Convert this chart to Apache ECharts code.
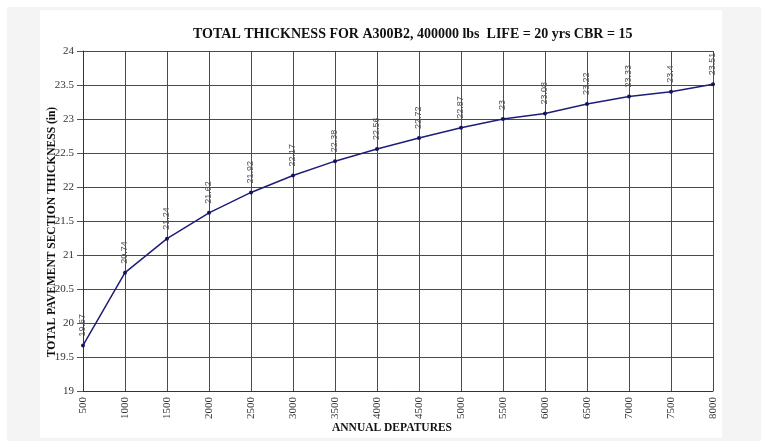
<!DOCTYPE html>
<html>
<head>
<meta charset="utf-8">
<script src="https://cdn.jsdelivr.net/npm/echarts@6/dist/echarts.min.js"></script>
<style>
  body { margin: 0; background: #ffffff; }
  .outer { position: absolute; left: 7px; top: 7px; width: 754px; height: 434px; background: #f4f4f4; }
  .panel { position: absolute; left: 40px; top: 10px; width: 682px; height: 428px; background: #ffffff; }
  #chart { position: absolute; left: 0; top: 0; width: 761px; height: 441px; }
</style>
</head>
<body>
<div class="outer"></div>
<div class="panel"></div>
<div id="chart"></div>
<script>
    // annual departures and total thickness (in)
    let departures = ['500', '1000', '1500', '2000', '2500', '3000', '3500', '4000',
        '4500', '5000', '5500', '6000', '6500', '7000', '7500', '8000'];
    let thickness = [19.67, 20.74, 21.24, 21.62, 21.92, 22.17, 22.38, 22.56,
        22.72, 22.87, 23, 23.08, 23.22, 23.33, 23.4, 23.51];

    let serif = '"Liberation Serif", "Times New Roman", serif';
    let gridColor = '#4a4a4a';

    let myChart = echarts.init(document.getElementById('chart'));
    myChart.setOption({
        animation: false,
        title: {
            text: 'TOTAL THICKNESS FOR A300B2, 400000 lbs  LIFE = 20 yrs CBR = 15',
            left: 193,
            top: 27,
            padding: 0,
            textStyle: {
                fontFamily: serif,
                fontSize: 14,
                fontWeight: 'bold',
                color: '#111'
            }
        },
        grid: {
            left: 83,
            right: 48,
            top: 51,
            bottom: 50
        },
        xAxis: {
            type: 'category',
            data: departures,
            boundaryGap: false,
            name: 'ANNUAL DEPATURES',
            nameLocation: 'middle',
            nameGap: 31,
            nameMoveOverlap: false,
            nameTextStyle: {
                fontFamily: serif,
                fontSize: 11.5,
                fontWeight: 'bold',
                color: '#111',
                padding: [0, 12, 0, 0]
            },
            axisLine: {lineStyle: {color: '#333', width: 1}},
            axisTick: {show: false},
            axisLabel: {
                rotate: 90,
                interval: 0,
                margin: 6,
                fontFamily: serif,
                fontSize: 11,
                color: '#333'
            },
            splitLine: {show: true, lineStyle: {color: gridColor, width: 1}}
        },
        yAxis: {
            type: 'value',
            min: 19,
            max: 24,
            interval: 0.5,
            name: 'TOTAL PAVEMENT SECTION THICKNESS (in)',
            nameLocation: 'middle',
            nameGap: 25,
            nameMoveOverlap: false,
            nameTextStyle: {
                fontFamily: serif,
                fontSize: 11.5,
                fontWeight: 'bold',
                color: '#111',
                padding: [0, 22, 0, 0]
            },
            axisLine: {show: true, lineStyle: {color: '#333', width: 1}},
            axisTick: {show: true, length: 6, lineStyle: {color: '#555'}},
            axisLabel: {
                margin: 9,
                fontFamily: serif,
                fontSize: 11,
                color: '#333'
            },
            splitLine: {show: true, lineStyle: {color: gridColor, width: 1}}
        },
        series: {
            type: 'line',
            data: thickness,
            symbol: 'circle',
            symbolSize: 4,
            itemStyle: {color: '#14145e'},
            lineStyle: {color: '#1e1e78', width: 1.5},
            label: {
                show: true,
                position: 'top',
                distance: 7,
                rotate: 90,
                align: 'left',
                verticalAlign: 'middle',
                fontFamily: '"Liberation Sans", Arial, sans-serif',
                fontSize: 9,
                color: '#555'
            }
        }
    });
</script>
</body>
</html>
